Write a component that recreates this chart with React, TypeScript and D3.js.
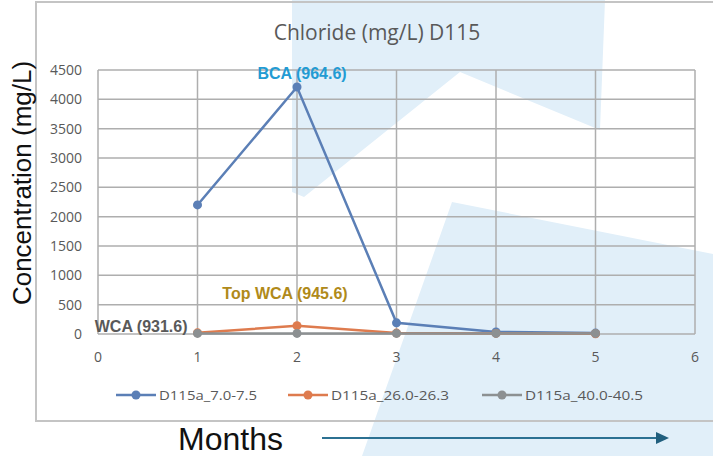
import { useRef, useEffect } from 'react'
import * as d3 from 'd3'

const months = [1, 2, 3, 4, 5]
const seriesNames = ['D115a_7.0-7.5', 'D115a_26.0-26.3', 'D115a_40.0-40.5']
const shallowValues = [2200, 4210, 190, 35, 15]
const middleValues = [20, 140, 15, 10, 5]
const deepValues = [10, 10, 10, 10, 10]
const xTicks = [0, 1, 2, 3, 4, 5, 6]
const yTicks = [0, 500, 1000, 1500, 2000, 2500, 3000, 3500, 4000, 4500]
const annotationLabels = ['BCA (964.6)', 'Top WCA (945.6)', 'WCA (931.6)']

const colors = ['#5B7FB6', '#DE7B4E', '#8C9092']

function App() {
  const ref = useRef<HTMLDivElement>(null)

  useEffect(() => {
    const container = ref.current
    if (container === null) return
    container.innerHTML = ''

    const width = 713
    const height = 456

    const svg = d3.select(container).append('svg')
      .attr('width', width)
      .attr('height', height)
      .style('position', 'absolute')
      .style('left', '0px')
      .style('top', '0px')
      .style('background', '#fff')

    // faint slide watermark shapes behind the chart
    const shapes = [
      [[292, 0], [605, 0], [600, 130], [460, 72], [304, 197], [292, 192]],
      [[452, 202], [713, 254], [713, 456], [362, 456]]
    ]
    shapes.forEach(function(pts) {
      svg.append('polygon')
        .attr('points', pts.map(p => p.join(',')).join(' '))
        .attr('fill', '#E1EFF9')
    })

    // chart frame
    svg.append('rect')
      .attr('x', 36).attr('y', 2)
      .attr('width', 700).attr('height', 419)
      .attr('fill', 'none')
      .attr('stroke', '#C4C4C4')
      .attr('stroke-width', 2)

    const x = d3.scaleLinear().domain([0, 6]).range([98, 695])
    const y = d3.scaleLinear().domain([0, 4500]).range([334, 70])

    // grid
    svg.append('g').selectAll('line').data(yTicks).join('line')
      .attr('x1', x(0)).attr('x2', x(6))
      .attr('y1', d => y(d)).attr('y2', d => y(d))
      .attr('stroke', '#AEAEAE').attr('stroke-width', 1.5)
    svg.append('g').selectAll('line').data(xTicks).join('line')
      .attr('x1', d => x(d)).attr('x2', d => x(d))
      .attr('y1', y(0)).attr('y2', y(4500))
      .attr('stroke', '#AEAEAE').attr('stroke-width', 1.5)

    // tick labels
    svg.append('g').selectAll('text').data(yTicks).join('text')
      .attr('x', 82).attr('y', d => y(d) + 5)
      .attr('text-anchor', 'end')
      .attr('font-family', 'Open Sans')
      .attr('font-size', 14)
      .attr('fill', '#595959')
      .text(d => d)
    svg.append('g').selectAll('text').data(xTicks).join('text')
      .attr('x', d => x(d)).attr('y', 362)
      .attr('text-anchor', 'middle')
      .attr('font-family', 'Open Sans')
      .attr('font-size', 14)
      .attr('fill', '#595959')
      .text(d => d)

    // title
    svg.append('text')
      .attr('x', 377).attr('y', 40)
      .attr('text-anchor', 'middle')
      .attr('font-family', 'Open Sans')
      .attr('font-size', 21)
      .attr('fill', '#595959')
      .text('Chloride (mg/L) D115')

    // y axis title
    svg.append('text')
      .attr('transform', 'translate(31,183) rotate(-90)')
      .attr('text-anchor', 'middle')
      .attr('font-family', 'Liberation Sans, Arial')
      .attr('font-size', 26)
      .attr('fill', '#111')
      .text('Concentration (mg/L)')

    // series
    const allValues = [shallowValues, middleValues, deepValues]
    const line = d3.line<number>()
      .x((d, i) => x(months[i]))
      .y(d => y(d))
    allValues.forEach(function(values, s) {
      svg.append('path')
        .datum(values)
        .attr('fill', 'none')
        .attr('stroke', colors[s])
        .attr('stroke-width', 2.5)
        .attr('d', line)
      svg.append('g').selectAll('circle').data(values).join('circle')
        .attr('cx', (d, i) => x(months[i]))
        .attr('cy', d => y(d))
        .attr('r', 4.5)
        .attr('fill', colors[s])
    })

    // annotations
    const annot = [
      { text: annotationLabels[0], px: x(2) + 5, py: y(shallowValues[1]) - 8, anchor: 'middle', fill: '#239BD3' },
      { text: annotationLabels[1], px: x(2) - 12, py: y(middleValues[1]) - 27, anchor: 'middle', fill: '#B08A1A' },
      { text: annotationLabels[2], px: x(1) - 10, py: y(deepValues[0]) - 1, anchor: 'end', fill: '#595959' }
    ]
    annot.forEach(function(a) {
      svg.append('text')
        .attr('x', a.px).attr('y', a.py)
        .attr('text-anchor', a.anchor)
        .attr('font-family', 'Liberation Sans, Arial')
        .attr('font-weight', 'bold')
        .attr('font-size', 16)
        .attr('fill', a.fill)
        .text(a.text)
    })

    // legend
    const legendX = [116, 288, 482]
    const legendW = [98, 118, 118]
    seriesNames.forEach(function(name, s) {
      const g = svg.append('g').attr('transform', `translate(${legendX[s]},395)`)
      g.append('line')
        .attr('x1', 0).attr('x2', 40).attr('y1', 0).attr('y2', 0)
        .attr('stroke', colors[s]).attr('stroke-width', 2.5)
      g.append('circle').attr('cx', 20).attr('cy', 0).attr('r', 4.5).attr('fill', colors[s])
      g.append('text')
        .attr('x', 43).attr('y', 5)
        .attr('font-family', 'Open Sans')
        .attr('font-size', 13)
        .attr('fill', '#595959')
        .attr('textLength', legendW[s])
        .attr('lengthAdjust', 'spacingAndGlyphs')
        .text(name)
    })

    // months arrow under the chart
    svg.append('text')
      .attr('x', 178).attr('y', 450)
      .attr('font-family', 'Liberation Sans, Arial')
      .attr('font-size', 32)
      .attr('fill', '#111')
      .text('Months')
    svg.append('line')
      .attr('x1', 322).attr('x2', 658)
      .attr('y1', 438).attr('y2', 438)
      .attr('stroke', '#2C7192').attr('stroke-width', 2)
    svg.append('polygon')
      .attr('points', '656,432 669,438 656,444')
      .attr('fill', '#215F7E')
  })

  return (
    <div ref={ref}></div>
  )
}

export default App
